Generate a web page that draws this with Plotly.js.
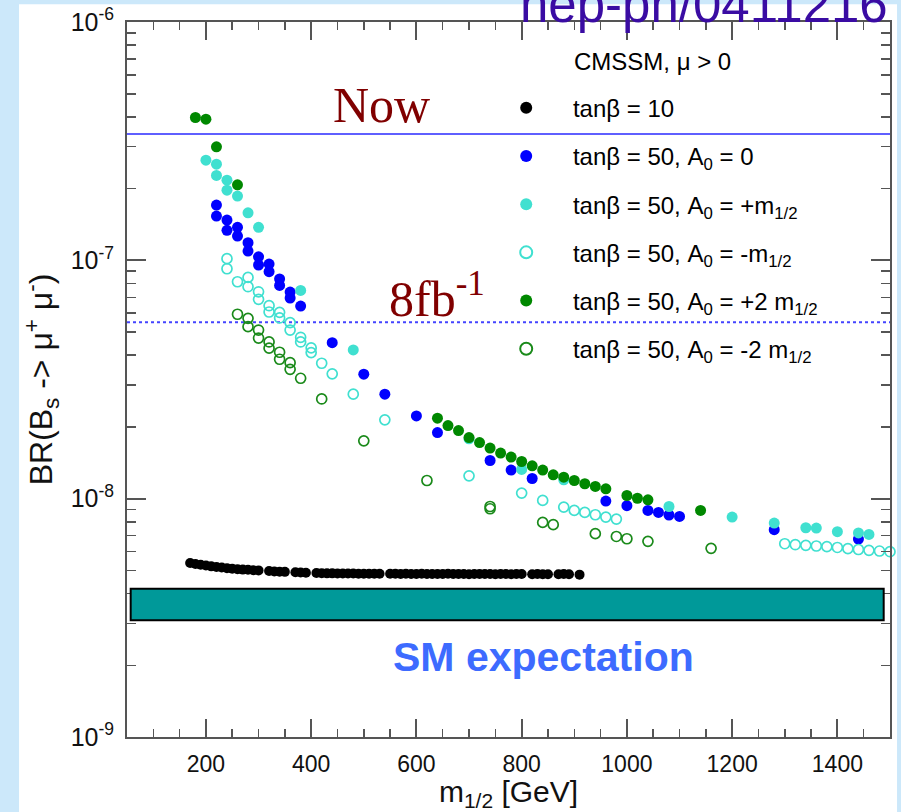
<!DOCTYPE html>
<html>
<head>
<meta charset="utf-8">
<script src="https://cdn.plot.ly/plotly-3.0.1.min.js"></script>
<style>html,body{margin:0;padding:0;background:#cce8fa;}#chart{width:901px;height:812px;}</style>
</head>
<body>
<div id="chart"></div>
<script>
// ---- data ----
const blackX = [170,180,190,200,210,220,230,240,250,260,270,280,290,300,320,330,340,350,370,380,390,410,420,430,440,450,460,470,480,490,500,510,520,530,550,560,570,580,590,600,610,620,630,640,650,660,670,680,690,700,710,720,730,740,750,760,770,780,790,800,820,830,840,850,870,880,890,910];
const blackY = [5.37e-9,5.32e-9,5.28e-9,5.24e-9,5.20e-9,5.17e-9,5.14e-9,5.11e-9,5.08e-9,5.06e-9,5.04e-9,5.03e-9,5.01e-9,5.00e-9,4.97e-9,4.95e-9,4.94e-9,4.93e-9,4.91e-9,4.90e-9,4.89e-9,4.88e-9,4.87e-9,4.86e-9,4.86e-9,4.85e-9,4.85e-9,4.85e-9,4.85e-9,4.84e-9,4.84e-9,4.84e-9,4.84e-9,4.84e-9,4.84e-9,4.84e-9,4.83e-9,4.84e-9,4.83e-9,4.83e-9,4.84e-9,4.83e-9,4.83e-9,4.83e-9,4.83e-9,4.84e-9,4.83e-9,4.83e-9,4.83e-9,4.82e-9,4.83e-9,4.83e-9,4.83e-9,4.83e-9,4.82e-9,4.83e-9,4.83e-9,4.82e-9,4.83e-9,4.83e-9,4.82e-9,4.83e-9,4.82e-9,4.82e-9,4.82e-9,4.83e-9,4.82e-9,4.80e-9];

const a0ZeroX = [220,220,240,240,260,260,280,280,300,300,320,320,340,340,360,360,380,440,500,540,600,640,740,780,820,960,1000,1040,1060,1080,1100,1280,1440];
const a0ZeroY = [1.705e-7,1.533e-7,1.475e-7,1.336e-7,1.375e-7,1.264e-7,1.185e-7,1.094e-7,1.035e-7,9.56e-8,9.65e-8,8.96e-8,8.35e-8,7.85e-8,7.36e-8,6.95e-8,6.43e-8,4.515e-8,3.33e-8,2.744e-8,2.225e-8,1.894e-8,1.446e-8,1.318e-8,1.215e-8,9.77e-9,9.34e-9,8.925e-9,8.754e-9,8.54e-9,8.42e-9,7.41e-9,6.77e-9];

const a0PlusX = [200,220,220,240,240,260,280,300,380,480,700,800,880,1080,1200,1280,1340,1360,1400,1440,1460];
const a0PlusY = [2.633e-7,2.533e-7,2.271e-7,2.17e-7,1.97e-7,1.86e-7,1.583e-7,1.375e-7,7.48e-8,4.21e-8,1.782e-8,1.326e-8,1.2e-8,9.27e-9,8.37e-9,7.90e-9,7.55e-9,7.53e-9,7.27e-9,7.18e-9,7.08e-9];

const a0MinusX = [240,240,260,280,280,300,300,320,320,340,340,360,360,380,380,400,400,420,440,480,540,700,800,840,880,900,920,940,960,980,1300,1320,1340,1360,1380,1400,1420,1440,1460,1480,1500];
const a0MinusY = [1.016e-7,9.22e-8,8.13e-8,8.48e-8,7.75e-8,7.38e-8,6.86e-8,6.45e-8,6.07e-8,6.05e-8,5.73e-8,5.48e-8,5.10e-8,4.755e-8,4.545e-8,4.29e-8,4.10e-8,3.70e-8,3.34e-8,2.744e-8,2.141e-8,1.247e-8,1.055e-8,9.83e-9,9.22e-9,8.925e-9,8.754e-9,8.56e-9,8.37e-9,8.21e-9,6.47e-9,6.41e-9,6.37e-9,6.33e-9,6.29e-9,6.24e-9,6.17e-9,6.12e-9,6.07e-9,6.03e-9,5.99e-9];

const a0Plus2X = [180,200,220,260,640,660,680,700,720,740,760,780,800,820,840,860,880,900,920,940,960,1000,1020,1040,1140];
const a0Plus2Y = [3.975e-7,3.911e-7,2.993e-7,2.074e-7,2.177e-8,2.026e-8,1.931e-8,1.805e-8,1.720e-8,1.630e-8,1.553e-8,1.494e-8,1.432e-8,1.374e-8,1.318e-8,1.259e-8,1.231e-8,1.192e-8,1.155e-8,1.125e-8,1.100e-8,1.031e-8,1.004e-8,9.89e-9,8.925e-9];

const a0Minus2X = [260,280,280,300,300,320,320,340,340,360,360,380,420,500,620,740,740,840,860,940,980,1000,1040,1160];
const a0Minus2Y = [5.94e-8,5.71e-8,5.27e-8,5.10e-8,4.72e-8,4.545e-8,4.28e-8,4.115e-8,3.846e-8,3.72e-8,3.49e-8,3.20e-8,2.62e-8,1.748e-8,1.192e-8,9.27e-9,9.07e-9,7.95e-9,7.78e-9,7.13e-9,6.94e-9,6.79e-9,6.62e-9,6.19e-9];

const nowLimit = 3.39e-7;
const lumi8Limit = 5.5e-8;
const smBandLow = 3.09e-9, smBandHigh = 4.19e-9;
const smBandXStart = 57, smBandXEnd = 1488;

const seriesNames = [
  'tanβ = 10',
  'tanβ = 50, A<sub>0</sub> = 0',
  'tanβ = 50, A<sub>0</sub> = +m<sub>1/2</sub>',
  'tanβ = 50, A<sub>0</sub> = -m<sub>1/2</sub>',
  'tanβ = 50, A<sub>0</sub> = +2 m<sub>1/2</sub>',
  'tanβ = 50, A<sub>0</sub> = -2 m<sub>1/2</sub>'
];
const yTickVals = [1e-9, 1e-8, 1e-7, 1e-6];
const yTickText = ['10<sup>-9</sup>', '10<sup>-8</sup>', '10<sup>-7</sup>', '10<sup>-6</sup>'];
const xTickVals = [200, 400, 600, 800, 1000, 1200, 1400];

// ---- styling ----
const FONT = 'Liberation Sans, Arial, Helvetica, sans-serif';
const SERIF = 'Liberation Serif, Times New Roman, serif';
const pad = '\u00a0\u00a0\u00a0\u00a0';
const AX = '#555555';

function filled(x, y, name, color, size, grp) {
  return {x: x, y: y, type: 'scatter', mode: 'markers', name: pad + name, legendgroup: grp,
    marker: {symbol: 'circle', size: size, color: color, line: {width: 0}}, cliponaxis: false};
}
function open(x, y, name, color, grp) {
  return {x: x, y: y, type: 'scatter', mode: 'markers', name: pad + name, legendgroup: grp,
    marker: {symbol: 'circle-open', size: 10, color: color, line: {width: 1.7, color: color}}, cliponaxis: false};
}

const traces = [
  filled(blackX, blackY, seriesNames[0], '#000000', 10, 'g1'),
  filled(a0ZeroX, a0ZeroY, seriesNames[1], '#0000ff', 11, 'g2'),
  filled(a0PlusX, a0PlusY, seriesNames[2], '#40e0d0', 11, 'g3'),
  open(a0MinusX, a0MinusY, seriesNames[3], '#40e0d0', 'g4'),
  filled(a0Plus2X, a0Plus2Y, seriesNames[4], '#008800', 11, 'g5'),
  open(a0Minus2X, a0Minus2Y, seriesNames[5], '#1a8a1a', 'g6')
];

const minorY = [];
for (let e = -9; e < -6; e++) for (let m = 2; m <= 9; m++) minorY.push(m * Math.pow(10, e));

const layout = {
  width: 901, height: 812,
  margin: {l: 127, r: 11, t: 22, b: 75},
  paper_bgcolor: '#cce8fa',
  plot_bgcolor: '#ffffff',
  font: {family: FONT, color: '#000'},
  showlegend: true,
  legend: {
    x: 0.497, xanchor: 'left', y: 0.911, yanchor: 'top',
    bgcolor: 'rgba(0,0,0,0)', borderwidth: 0,
    font: {family: FONT, size: 24, color: '#000'},
    tracegroupgap: 14, itemsizing: 'constant'
  },
  xaxis: {
    type: 'linear', range: [50, 1500],
    tickmode: 'array', tickvals: xTickVals,
    ticks: 'inside', ticklen: 18, tickwidth: 2, tickcolor: AX,
    minor: {dtick: 50, tick0: 0, ticks: 'inside', ticklen: 8, tickwidth: 1.5, tickcolor: AX},
    showline: true, linecolor: AX, linewidth: 2, mirror: 'ticks',
    showgrid: false, zeroline: false,
    tickfont: {family: FONT, size: 23, color: '#111'},
    ticklabelstandoff: 5,
    title: {text: 'm<sub>1/2</sub> [GeV]', font: {family: FONT, size: 30, color: '#111'}, standoff: 2}
  },
  yaxis: {
    type: 'log', range: [-9, -6],
    tickmode: 'array', tickvals: yTickVals, ticktext: yTickText,
    ticks: 'inside', ticklen: 19, tickwidth: 2, tickcolor: AX,
    minor: {tickmode: 'array', tickvals: minorY, ticks: 'inside', ticklen: 9, tickwidth: 1.5, tickcolor: AX},
    showline: true, linecolor: AX, linewidth: 2, mirror: 'ticks',
    showgrid: false, zeroline: false,
    tickfont: {family: FONT, size: 25, color: '#111'},
    ticklabelstandoff: 6,
    title: {text: 'BR(B<sub>s</sub> -> μ<sup>+</sup> μ<sup>-</sup>)', font: {family: FONT, size: 32, color: '#111'}, standoff: 8}
  },
  shapes: [
    {type: 'rect', xref: 'paper', yref: 'paper', x0: -0.1415, x1: 1.0092, y0: -0.11, y1: 1.025,
     fillcolor: '#ffffff', line: {width: 0}, layer: 'below'},
    {type: 'line', xref: 'paper', yref: 'y', x0: 0, x1: 1, y0: nowLimit, y1: nowLimit,
     line: {color: '#2a2aff', width: 1.5}, layer: 'below'},
    {type: 'line', xref: 'paper', yref: 'y', x0: 0, x1: 1, y0: lumi8Limit, y1: lumi8Limit,
     line: {color: '#4444ff', width: 2, dash: 'dot'}, layer: 'below'},
    {type: 'rect', xref: 'x', yref: 'y', x0: smBandXStart, x1: smBandXEnd, y0: smBandLow, y1: smBandHigh,
     fillcolor: '#009999', line: {color: '#000', width: 2}, layer: 'above'}
  ],
  annotations: [
    {xref: 'paper', yref: 'paper', x: 0.3329, y: 0.884, xanchor: 'center', yanchor: 'middle', showarrow: false,
     text: 'Now', font: {family: SERIF, size: 50, color: '#800000'}},
    {xref: 'paper', yref: 'paper', x: 0.4063, y: 0.617, xanchor: 'center', yanchor: 'middle', showarrow: false,
     text: '8fb<sup>-1</sup>', font: {family: SERIF, size: 50, color: '#800000'}},
    {xref: 'paper', yref: 'paper', x: 0.5465, y: 0.112, xanchor: 'center', yanchor: 'middle', showarrow: false,
     text: '<b>SM expectation</b>', font: {family: FONT, size: 41, color: '#3d6bff'}},
    {xref: 'paper', yref: 'paper', x: 0.5828, y: 0.9445, xanchor: 'left', yanchor: 'middle', showarrow: false,
     text: 'CMSSM, μ > 0', font: {family: FONT, size: 24, color: '#000'}},
    {xref: 'paper', yref: 'paper', x: 0.5125, y: 1.025, xanchor: 'left', yanchor: 'middle', showarrow: false,
     text: 'hep-ph/0411216', font: {family: FONT, size: 51, color: '#3a0ca3'}}
  ]
};

Plotly.newPlot('chart', traces, layout, {displayModeBar: false, staticPlot: true});
</script>
</body>
</html>
